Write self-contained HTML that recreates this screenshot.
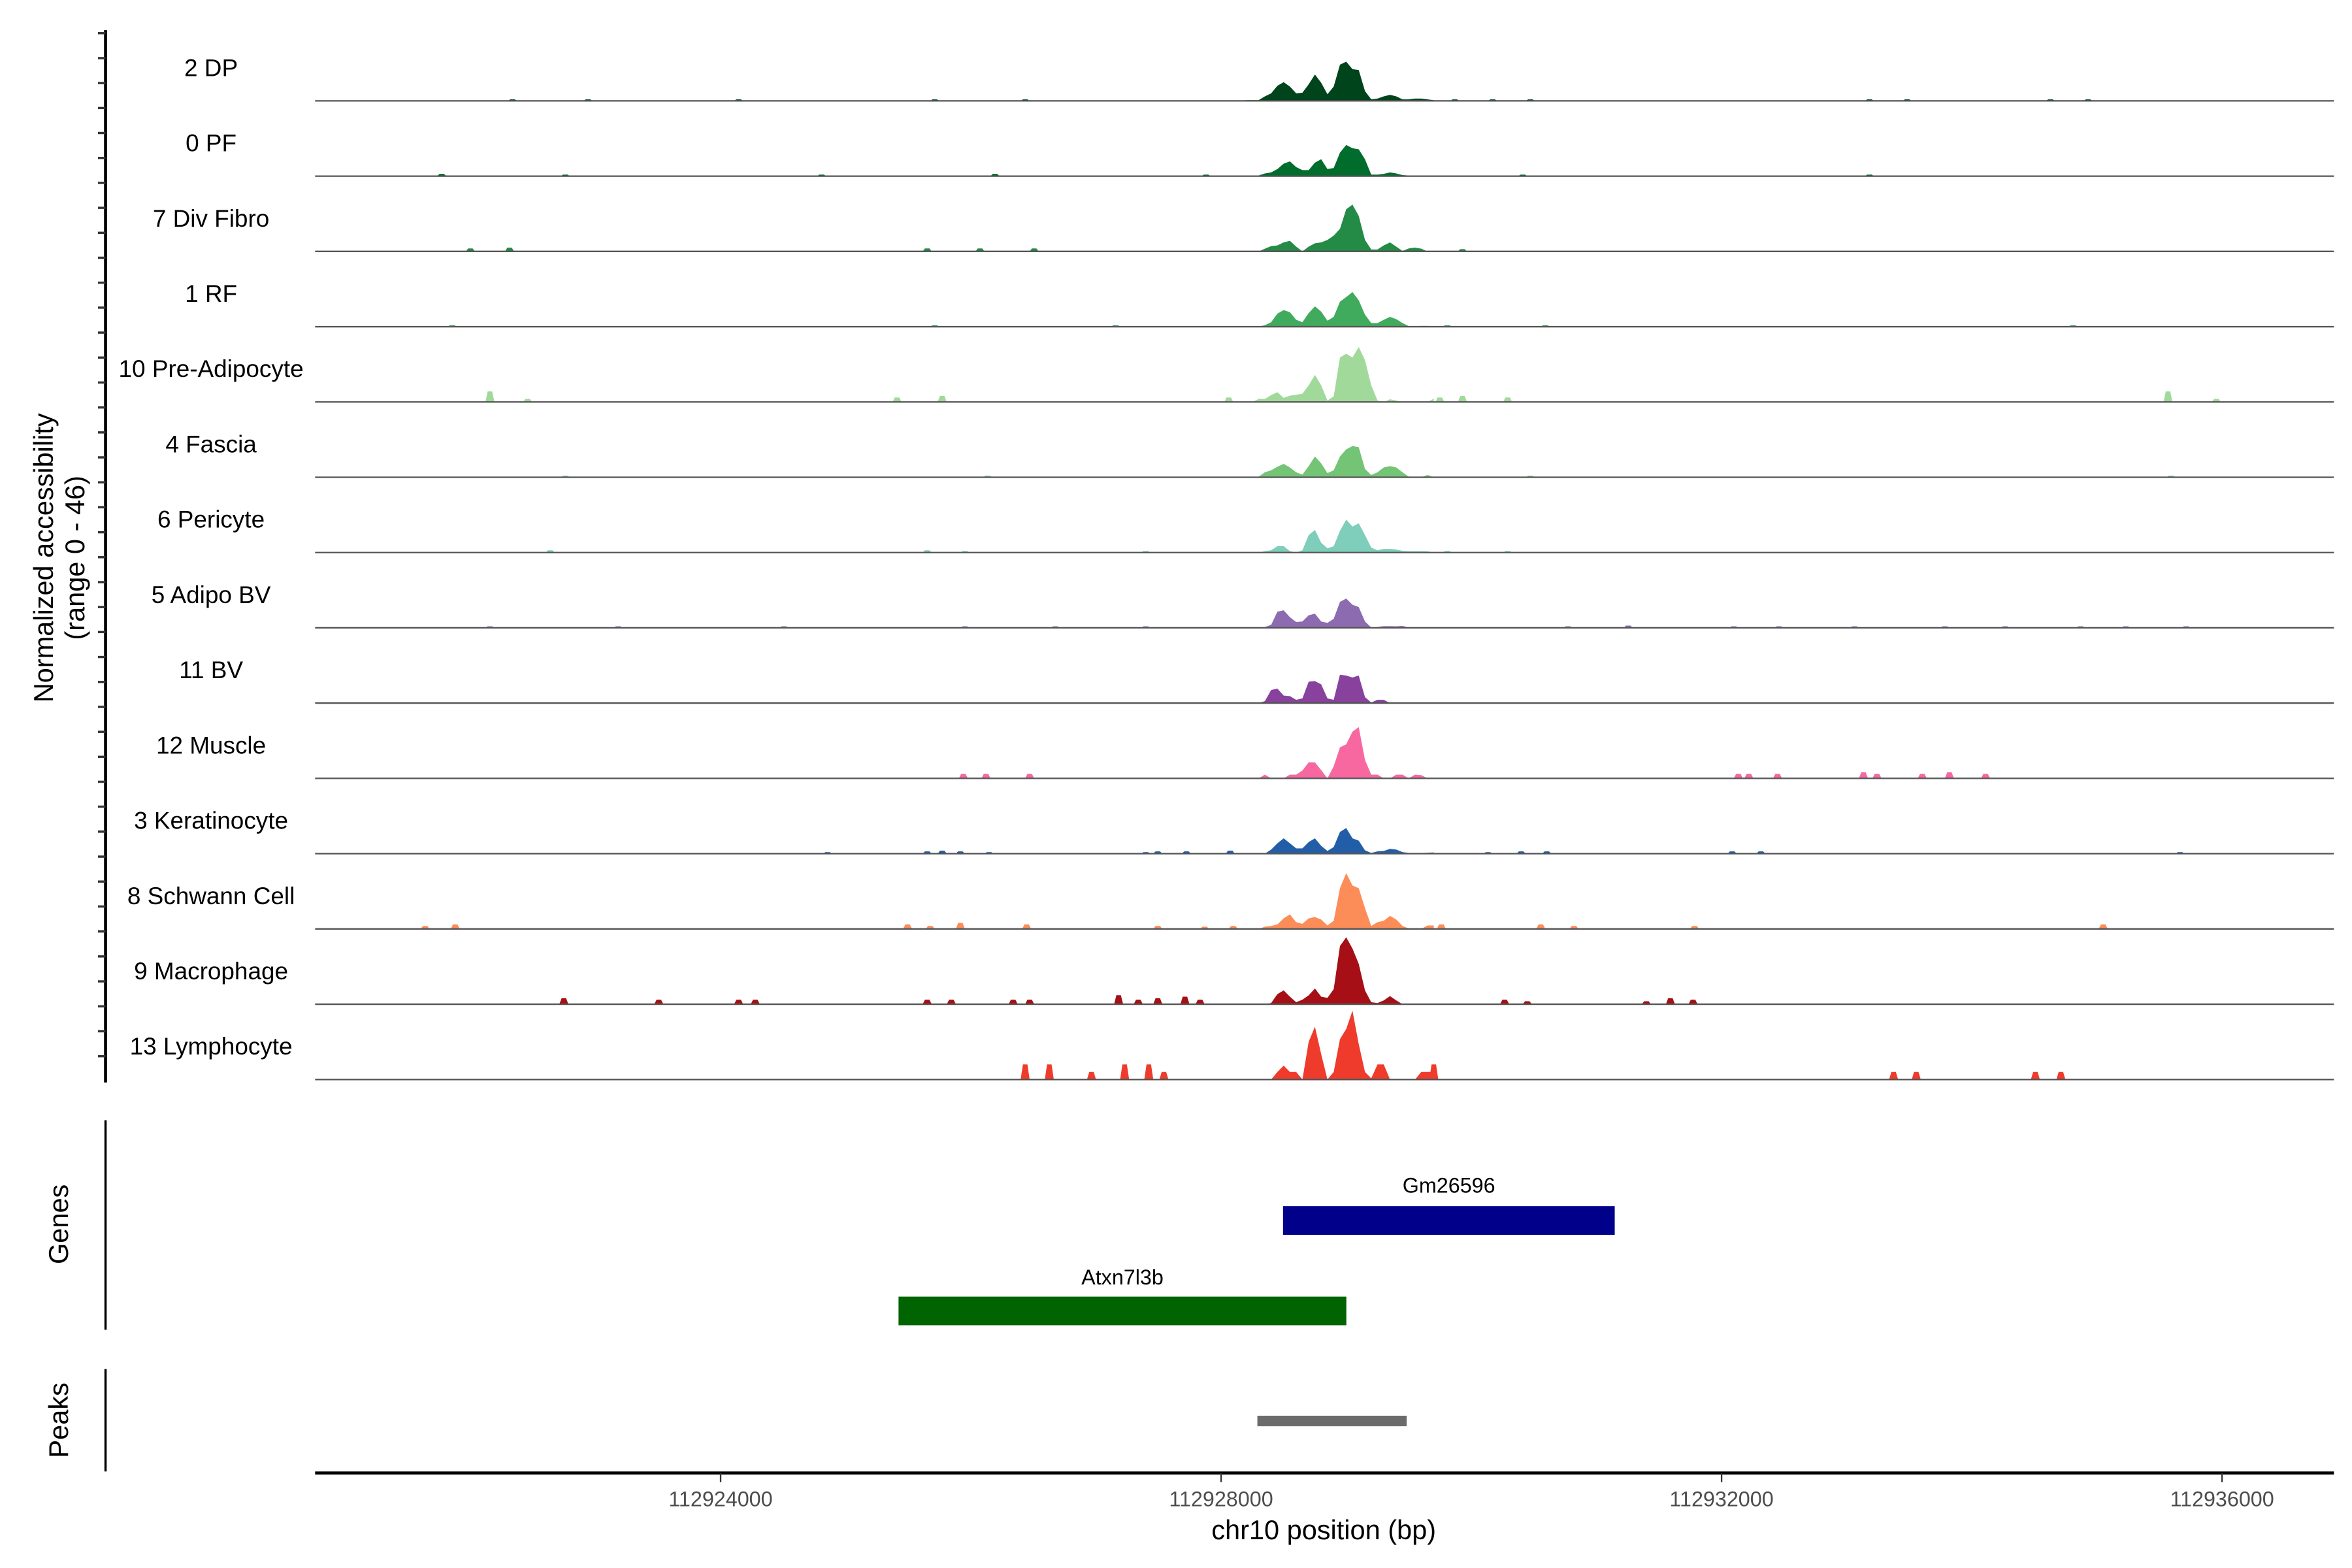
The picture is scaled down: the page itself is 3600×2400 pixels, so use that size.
<!DOCTYPE html>
<html><head><meta charset="utf-8"><style>
html,body{margin:0;padding:0;background:#fff;}
svg{display:block;font-family:"Liberation Sans",sans-serif;}
</style></head><body>
<svg id="chart" xmlns="http://www.w3.org/2000/svg" width="3600" height="2400" viewBox="0 0 1560 1040" preserveAspectRatio="none">
<g id="tracks"></g>
<g id="yaxis">
<line x1="70" y1="20" x2="70" y2="718" stroke="#000" stroke-width="2"/>
</g>
<text transform="translate(35,370) rotate(-90)" text-anchor="middle" font-size="18">Normalized accessibility</text>
<text transform="translate(56,370) rotate(-90)" text-anchor="middle" font-size="18">(range 0 - 46)</text>
<g>
<line x1="70" y1="743" x2="70" y2="882" stroke="#000" stroke-width="1.5"/>
<text transform="translate(45,812) rotate(-90)" text-anchor="middle" font-size="18">Genes</text>
<g id="genes"></g>
</g>
<g>
<line x1="70" y1="908" x2="70" y2="976" stroke="#000" stroke-width="1.5"/>
<text transform="translate(45,942) rotate(-90)" text-anchor="middle" font-size="18">Peaks</text>
<g id="peaks"></g>
</g>
<g id="xaxis">
<line x1="209" y1="977" x2="1548" y2="977" stroke="#000" stroke-width="2"/>
</g>
<text x="878" y="1021" text-anchor="middle" font-size="18">chr10 position (bp)</text>
</svg>
<script>
const NS="http://www.w3.org/2000/svg";
const trackNames=["2 DP","0 PF","7 Div Fibro","1 RF","10 Pre-Adipocyte","4 Fascia","6 Pericyte","5 Adipo BV","11 BV","12 Muscle","3 Keratinocyte","8 Schwann Cell","9 Macrophage","13 Lymphocyte"];
const trackColors=["#00441B","#006D2C","#238B45","#41AB5D","#A1D99B","#74C476","#7FCDBB","#8C6BB1","#88419D","#F768A1","#225EA8","#FC8D59","#A50F15","#EF3B2C"];
const gridStart=112928200, gridStep=50;
const vDP=[0.5,0.5,0.5,3,5,10,12.4,9.5,5,5.4,11,17.5,12,4.4,9.5,24,26,21,20.5,6.5,1,1.5,3,4,3,1,1,1.5,1.5,1,0.5];
const vPF=[0.4,0.4,0.4,1.8,2.5,4.7,8.3,9.8,6,4,4,9,11.2,4.7,5.4,15.6,20.7,18.5,17.8,11.2,1,1,1.5,2.5,1.8,0.7,0.4,0.4,0.4,0.4,0.4];
const vDiv=[0,0,0,1.8,3.5,4,6,7,3.2,0,3.2,5.4,6,7.6,10.5,15,28,31,23.6,7.6,1.3,1.3,4,6,3.2,0.3,2,2.5,1.8,0,0];
const vRF=[0,0,0,1,3,8.7,11,9.6,4.6,3,9,13.5,10,4,6.5,16.6,19.7,23,17.5,8,2.4,2.4,4.6,6.5,5,2.4,0.4,0,0.5,0.5,0];
const vPre=[0,0,2,2,4.6,6.5,2.8,4.2,4.8,5.5,11,18,11,1,3.7,29.5,32,29.5,36.5,27.7,11,1,0,1.8,1,0,0,0,0,0,2.2];
const vFas=[0,0,0.4,3.3,4.6,7,8.9,6.5,3.3,1.8,7.4,13.8,9.2,2.8,4.6,13.8,18.5,20.7,20,5.5,1.5,3.3,6.5,7.4,6.5,3.3,0.4,0,0,1.5,0];
const vPer=[0,0,0,0.9,1.5,4.2,4.2,0.9,0,1.5,11.6,15,6.5,2.8,4.2,14.4,21.8,17.2,19.4,11.6,3.3,1.5,2.4,2.4,2,1.1,0.9,0.9,0.9,0.8,0];
const vABV=[0,0,0,0.5,2,10.7,11.6,7,3.9,4.2,8.3,9.4,4.2,3.3,6,17.2,19.4,15.3,13.8,4.2,0.2,0.5,1.1,1.1,1,1.3,0.2,0,0,0,0];
const vBV=[0,0,0,1.3,8.7,9.6,5,4.6,2.2,3.1,14.2,14.6,12.4,3.1,2.2,18.8,18.3,17,18.3,4,0.4,2.2,2.2,0,0,0,0,0,0,0,0];
const vMus=[0,0,0,2.5,0,0,0,2.5,2.5,5.2,10.6,10.6,5.5,0,8,20.6,22.6,31,34,12.2,2.5,2.5,0,0,2.5,2.5,0,2.5,2.2,0,0];
const vKer=[0,0,0,0,2.7,6.9,10.2,6.9,3.5,3.5,7.7,10.2,5.2,1.8,4.4,14.4,17,10.2,8.6,2.2,0.5,1.5,1.8,3.2,2.7,1,0.5,0.5,0.5,0.6,0.8];
const vSch=[0,0,0,1.5,2,3,7,9.6,4.5,3.4,7,7.9,6.2,2.3,5.4,27,37,28.8,27,13.8,2,4.5,5.4,8.7,6.2,2,0.3,0,0,2.3,2.3];
const vMac=[0,0,0,0,0.8,6.7,9.2,5,1.3,3,5.9,10.4,5,4.2,10,38.6,44.4,36.9,26.8,9.2,1.3,0.8,2.5,5.4,2.5,0,0,0,0,0,0];
const vLym=[0,0,0,0,0,5,9.2,5,5,0,25,35,16.8,0,5,26.8,33.5,45.6,23.5,5,0.8,10,10,0,0,0,0,0,5,5,5];
const mainValues=[vDP,vPF,vDiv,vRF,vPre,vFas,vPer,vABV,vBV,vMus,vKer,vSch,vMac,vLym];
const mpDP=[112922337,112922940,112924144,112925711,112926434,112929868,112930170,112930471,112933182,112933483,112934628,112934929];
const mhDP=[1,1,1,1,1,1,1,1,1,1,1,1];
const mpPF=[112921771,112922759,112924807,112926193,112927880,112930411,112933182];
const mhPF=[1.5,1,1,1.5,1,1,1];
const mpDiv=[112922000,112922313,112925651,112926073,112926506,112929929];
const mhDiv=[2,2.5,2,2,2,1.5];
const mpRF=[112921855,112925711,112927157,112929808,112930591,112934809];
const mhRF=[1,1,1,1,1,1];
const mpPre=[112922156,112922458,112925410,112925771,112928061,112929748,112929929,112930290,112935568,112935954];
const mhPre=[7,2,3,4,3,3,4,3,7,2];
const mpFas=[112922759,112926133,112930471,112935592];
const mhFas=[1,1,1,1];
const mpPer=[112922638,112925651,112925952,112927398,112929808,112930290];
const mhPer=[1.5,1.5,1,1,1,1];
const mpABV=[112922156,112923181,112924506,112925952,112926675,112927398,112930772,112931254,112932098,112932459,112933062,112933785,112934267,112934869,112935231,112935713];
const mhABV=[1,1,1,1,1,1,1,1.5,1,1,1,1,1,1,1,1];
const mpBV=[];
const mhBV=[];
const mpMus=[112925940,112926121,112926470,112932134,112932218,112932447,112933134,112933242,112933604,112933821,112934110];
const mhMus=[3,3,3,3,3,3,4,3,3,4,3];
const mpKer=[112924855,112925651,112925771,112925916,112926145,112927398,112927494,112927723,112928073,112930133,112930398,112930603,112932085,112932314,112935664];
const mhKer=[1,1.5,2,1.5,1,1,1.5,1.5,2,1,1.5,1.5,1.5,1.5,1];
const mpSch=[112921638,112921879,112925494,112925675,112925916,112926446,112927494,112927868,112928097,112929760,112930555,112930820,112931784,112935050];
const mhSch=[2,3,3,2,4,3,2,1.5,2,3,3,2,2,3];
const mpMac=[112922747,112923506,112924144,112924277,112925651,112925844,112926338,112926470,112927181,112927338,112927494,112927711,112927832,112930266,112930447,112931399,112931591,112931772];
const mhMac=[4,3,3,3,3,3,3,3,6,3,4,5,3,3,2,2,4,3];
const mpLym=[112926434,112926627,112926964,112927229,112927422,112927543,112929700,112933375,112933556,112934508,112934712];
const mhLym=[10,10,5,10,10,5,10,5,5,5,5];
const minorPos=[mpDP,mpPF,mpDiv,mpRF,mpPre,mpFas,mpPer,mpABV,mpBV,mpMus,mpKer,mpSch,mpMac,mpLym];
const minorH=[mhDP,mhPF,mhDiv,mhRF,mhPre,mhFas,mhPer,mhABV,mhBV,mhMus,mhKer,mhSch,mhMac,mhLym];
const xTicks=[112924000,112928000,112932000,112936000];
const geneNames=["Gm26596","Atxn7l3b"];
const geneStart=[112928495,112925422];
const geneEnd=[112931146,112929001];
const geneColors=["#00008B","#006400"];
const peakStart=[112928290];
const peakEnd=[112929483];

const bpMin=112920759, bpPerPx=12.05, plotLeft=209, plotRight=1548;
function xs(bp){return plotLeft+(bp-bpMin)/bpPerPx;}
const yUnit=1.0;
function baseY(i){return 66.9+i*49.93;}
function ys(i,v){return baseY(i)-v*yUnit;}
function mk(tag,attrs,parent){const e=document.createElementNS(NS,tag);for(const k in attrs)e.setAttribute(k,attrs[k]);parent.appendChild(e);return e;}

const tracksG=document.getElementById('tracks');
for(let i=0;i<trackNames.length;i++){
  const g=mk('g',{},tracksG);
  
  
  const lab=mk('text',{x:140,y:baseY(i)-16.5,'text-anchor':'middle','font-size':16,fill:'#000'},g);
  lab.textContent=trackNames[i];
  
  
  const vals=mainValues[i];
  let d='M'+xs(gridStart).toFixed(2)+','+baseY(i).toFixed(2);
  for(let k=0;k<vals.length;k++){d+=' L'+xs(gridStart+k*gridStep).toFixed(2)+','+ys(i,vals[k]).toFixed(2);}
  d+=' L'+xs(gridStart+(vals.length-1)*gridStep).toFixed(2)+','+baseY(i).toFixed(2)+' Z';
  const area=mk('path',{d:d,fill:trackColors[i]},g);
  
  
  const mp=minorPos[i], mh=minorH[i];
  for(let k=0;k<mp.length;k++){
    const x0=xs(mp[k]-36), x1=xs(mp[k]+36), xa=xs(mp[k]-18), xb=xs(mp[k]+18);
    const b=baseY(i), t=ys(i,mh[k]);
    const p=mk('path',{d:'M'+x0+','+b+' L'+xa+','+t+' L'+xb+','+t+' L'+x1+','+b+' Z',fill:trackColors[i]},g);
    
    
  }
  const bl=mk('line',{x1:plotLeft,x2:plotRight,y1:baseY(i),y2:baseY(i),stroke:'#555','stroke-width':1},g);
  
  
}
const yax=document.getElementById('yaxis');
for(let y=22;y<=717;y+=16.55){
  const t=mk('line',{x1:65,x2:70,y1:y,y2:y,stroke:'#333','stroke-width':1.5},yax);
  
  
}
const genesG=document.getElementById('genes');
const geneY=[800,860], geneLabY=[791,852];
for(let i=0;i<geneNames.length;i++){
  const r=mk('rect',{x:xs(geneStart[i]),y:geneY[i],width:xs(geneEnd[i])-xs(geneStart[i]),height:19,fill:geneColors[i]},genesG);
  
  
  const t=mk('text',{x:(xs(geneStart[i])+xs(geneEnd[i]))/2,y:geneLabY[i],'text-anchor':'middle','font-size':14},genesG);
  t.textContent=geneNames[i];
  
  
}
const pk=document.getElementById('peaks');
for(let i=0;i<peakStart.length;i++){
  const r=mk('rect',{x:xs(peakStart[i]),y:939,width:xs(peakEnd[i])-xs(peakStart[i]),height:7,fill:'#6B6B6B'},pk);
  
  
}
const xa=document.getElementById('xaxis');
for(let i=0;i<xTicks.length;i++){
  const x=xs(xTicks[i]);
  const t=mk('line',{x1:x,x2:x,y1:977,y2:983,stroke:'#333','stroke-width':1},xa);
  
  
  const l=mk('text',{x:x,y:999,'text-anchor':'middle','font-size':14,fill:'#4D4D4D'},xa);
  l.textContent=String(xTicks[i]);
  
  
}
</script>
</body></html>
